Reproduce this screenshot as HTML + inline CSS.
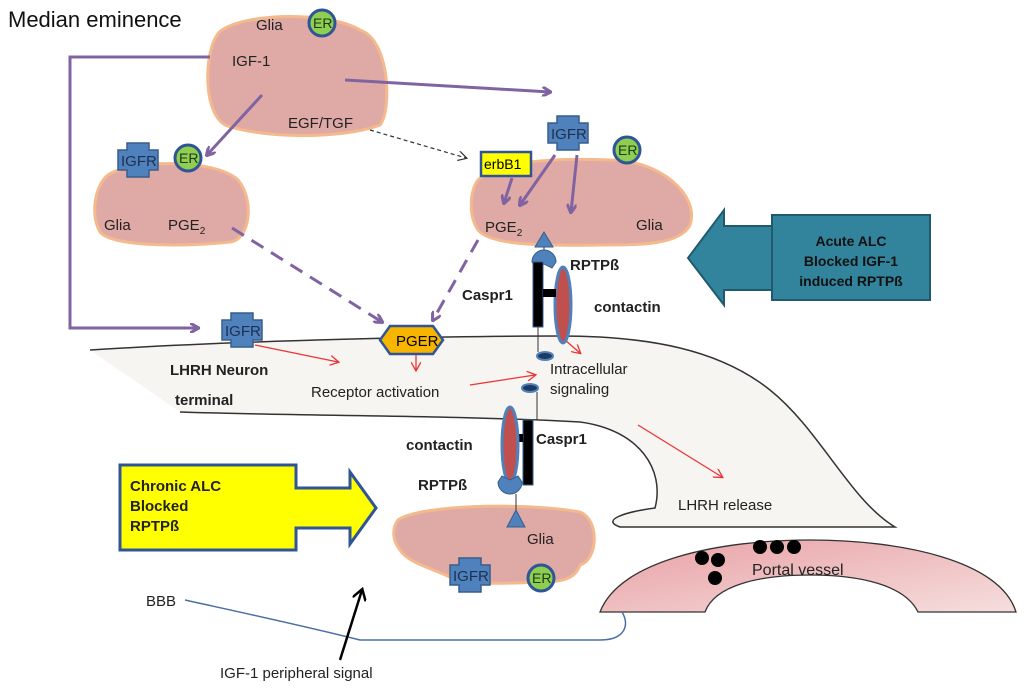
<!DOCTYPE html>
<html><head><meta charset="utf-8"><style>
body{margin:0;background:#fff}
svg{display:block;font-family:"Liberation Sans",Arial,sans-serif}
.b{font-weight:bold}
</style></head><body>
<svg width="1024" height="690" viewBox="0 0 1024 690" xmlns="http://www.w3.org/2000/svg">
<defs>
<marker id="pa" markerWidth="10" markerHeight="10" refX="8" refY="5" orient="auto" markerUnits="userSpaceOnUse"><path d="M0,0 L9,5 L0,10" fill="none" stroke="#8064a2" stroke-width="3"/></marker>
<marker id="ra" markerWidth="10" markerHeight="10" refX="8" refY="5" orient="auto" markerUnits="userSpaceOnUse"><path d="M0,0 L9,5 L0,10" fill="none" stroke="#e33" stroke-width="1.3"/></marker>
<marker id="ka" markerWidth="10" markerHeight="10" refX="8" refY="5" orient="auto" markerUnits="userSpaceOnUse"><path d="M0,0 L9,5 L0,10" fill="none" stroke="#333" stroke-width="1.2"/></marker>
<marker id="ba" markerWidth="14" markerHeight="14" refX="10" refY="7" orient="auto" markerUnits="userSpaceOnUse"><path d="M0,0 L11,7 L0,14" fill="none" stroke="#000" stroke-width="2.5"/></marker>
<linearGradient id="pv" x1="0" y1="0" x2="1" y2="1"><stop offset="0" stop-color="#e8a0a4"/><stop offset="1" stop-color="#f6dede"/></linearGradient>
</defs>

<!-- neuron terminal -->
<path d="M90,350 C250,340 450,336 560,336 C650,336 720,350 770,390 C820,430 850,500 895,527 L620,527 C600,520 625,512 655,508 C665,470 640,430 580,422 C450,415 300,416 180,412" fill="#f7f5f2" stroke="#333" stroke-width="1.5"/>

<!-- portal vessel -->
<path d="M600,612 C620,560 720,540 810,540 C900,540 1000,560 1016,612 L918,612 C905,585 860,575 810,575 C760,575 715,585 705,612 Z" fill="url(#pv)" stroke="#333" stroke-width="1.3"/>
<g fill="#000"><circle cx="760" cy="547" r="7"/><circle cx="777" cy="547" r="7"/><circle cx="794" cy="547" r="7"/><circle cx="702" cy="558" r="7"/><circle cx="718" cy="560" r="7"/><circle cx="715" cy="578" r="7"/></g>
<text x="752" y="575" font-size="16" fill="#222">Portal vessel</text>

<!-- BBB -->
<path d="M185,600 C230,610 300,625 360,640 L600,640 C625,640 630,625 622,612" fill="none" stroke="#4a6fa5" stroke-width="1.5"/>
<text x="146" y="606" font-size="15" fill="#222">BBB</text>
<line x1="340" y1="660" x2="362" y2="590" stroke="#000" stroke-width="2.5" marker-end="url(#ba)"/>
<text x="220" y="678" font-size="15" fill="#222">IGF-1 peripheral signal</text>

<!-- glia blobs -->
<g fill="#dfa9a5" stroke="#f4b98c" stroke-width="3">
<path d="M222,30 C250,12 330,12 360,30 C390,40 392,110 380,125 C340,140 260,138 225,125 C200,110 205,40 222,30 Z"/>
<path d="M108,175 C130,160 215,158 238,180 C255,200 250,240 230,242 C170,248 110,245 100,232 C90,215 95,185 108,175 Z"/>
<path d="M478,180 C500,160 560,158 610,160 C660,160 700,195 690,225 C680,245 640,245 600,245 C540,246 490,245 478,230 C468,215 470,190 478,180 Z"/>
<path d="M398,520 C420,505 520,502 580,512 C600,520 598,560 580,565 C575,580 560,582 540,582 C500,584 470,584 455,580 C440,570 410,565 400,550 C392,540 392,528 398,520 Z"/>
</g>

<!-- purple arrows -->
<g stroke="#8064a2" stroke-width="3" fill="none">
<polyline points="210,57 70,57 70,328 198,328" marker-end="url(#pa)"/>
<line x1="345" y1="80" x2="550" y2="92" marker-end="url(#pa)"/>
<line x1="262" y1="95" x2="207" y2="155" marker-end="url(#pa)"/>
<line x1="555" y1="155" x2="520" y2="205" marker-end="url(#pa)"/>
<line x1="512" y1="178" x2="504" y2="203" marker-end="url(#pa)"/>
<line x1="577" y1="155" x2="571" y2="212" marker-end="url(#pa)"/>
<line x1="232" y1="228" x2="382" y2="322" stroke-dasharray="14,9" marker-end="url(#pa)"/>
<line x1="478" y1="240" x2="433" y2="320" stroke-dasharray="14,9" marker-end="url(#pa)"/>
</g>
<line x1="370" y1="130" x2="466" y2="158" stroke="#333" stroke-width="1.2" stroke-dasharray="4,3" marker-end="url(#ka)"/>

<!-- red arrows -->
<g stroke="#e33" stroke-width="1.3" fill="none">
<line x1="255" y1="345" x2="338" y2="362" marker-end="url(#ra)"/>
<line x1="416" y1="345" x2="416" y2="370" marker-end="url(#ra)"/>
<line x1="470" y1="385" x2="535" y2="375" marker-end="url(#ra)"/>
<line x1="565" y1="340" x2="580" y2="353" marker-end="url(#ra)"/>
<line x1="638" y1="425" x2="722" y2="477" marker-end="url(#ra)"/>
</g>

<!-- IGFR crosses -->
<g fill="#4f81bd" stroke="#385d8a" stroke-width="1.5" font-size="15">
<path d="M118,150 h9 v-7 h22 v7 h9 v20 h-9 v7 h-22 v-7 h-9 z"/>
<path d="M222,320 h9 v-7 h22 v7 h9 v20 h-9 v7 h-22 v-7 h-9 z"/>
<path d="M548,123 h9 v-7 h22 v7 h9 v20 h-9 v7 h-22 v-7 h-9 z"/>
<path d="M450,565 h9 v-7 h22 v7 h9 v20 h-9 v7 h-22 v-7 h-9 z"/>
</g>
<g font-size="15" fill="#1f2f4f"><text x="121" y="166">IGFR</text><text x="225" y="336">IGFR</text><text x="551" y="139">IGFR</text><text x="453" y="581">IGFR</text></g>

<!-- ER circles -->
<g fill="#8fce50" stroke="#2f5597" stroke-width="3">
<circle cx="322" cy="23" r="13"/><circle cx="188" cy="158" r="13"/><circle cx="627" cy="150" r="13"/><circle cx="541" cy="578" r="13"/>
</g>
<g font-size="14" fill="#1a3a1a"><text x="313" y="28">ER</text><text x="179" y="163">ER</text><text x="618" y="155">ER</text><text x="532" y="583">ER</text></g>

<!-- erbB1 -->
<rect x="481" y="152" width="50" height="24" fill="#ffff00" stroke="#2f5597" stroke-width="2.5"/>
<text x="484" y="169" font-size="14">erbB1</text>

<!-- PGER -->
<path d="M380,340 L390,326 L433,326 L443,340 L433,354 L390,354 Z" fill="#f7b500" stroke="#2f5597" stroke-width="2.5"/>
<text x="396" y="346" font-size="15">PGER</text>

<!-- top receptor complex -->
<path d="M544,232 L553,247 L535,247 Z" fill="#4f81bd" stroke="#385d8a"/>
<line x1="544" y1="247" x2="544" y2="260" stroke="#333"/>
<path d="M532,262 a12,12 0 0 1 24,0 l-4,6 l-8,-4 l-8,4 z" fill="#4f81bd" stroke="#385d8a"/>
<ellipse cx="563" cy="305" rx="8" ry="38" fill="#c0504d" stroke="#4f81bd" stroke-width="3"/>
<rect x="533" y="262" width="10" height="65" fill="#000" stroke="#385d8a"/>
<rect x="543" y="289" width="13" height="8" fill="#000"/>
<line x1="538" y1="327" x2="538" y2="352" stroke="#333"/>
<ellipse cx="545" cy="356" rx="8" ry="4" fill="#1f3a60" stroke="#4f81bd" stroke-width="2"/>

<!-- bottom receptor complex -->
<ellipse cx="530" cy="388" rx="8" ry="4" fill="#1f3a60" stroke="#4f81bd" stroke-width="2"/>
<line x1="537" y1="392" x2="537" y2="420" stroke="#333"/>
<rect x="523" y="420" width="10" height="65" fill="#000" stroke="#385d8a"/>
<rect x="510" y="434" width="13" height="8" fill="#000"/>
<ellipse cx="510" cy="445" rx="8" ry="38" fill="#c0504d" stroke="#4f81bd" stroke-width="3"/>
<path d="M498,482 a12,12 0 0 0 24,0 l-4,-6 l-8,4 l-8,-4 z" fill="#4f81bd" stroke="#385d8a"/>
<line x1="516" y1="494" x2="516" y2="510" stroke="#333"/>
<path d="M516,510 L525,527 L507,527 Z" fill="#4f81bd" stroke="#385d8a"/>

<!-- labels -->
<text x="8" y="27" font-size="22" fill="#111">Median eminence</text>
<g font-size="15" fill="#222">
<text x="256" y="30">Glia</text>
<text x="232" y="66">IGF-1</text>
<text x="288" y="128">EGF/TGF</text>
<text x="104" y="230">Glia</text>
<text x="168" y="230">PGE<tspan font-size="10" dy="4">2</tspan></text>
<text x="485" y="232">PGE<tspan font-size="10" dy="4">2</tspan></text>
<text x="636" y="230">Glia</text>
<text x="311" y="397">Receptor activation</text>
<text x="550" y="374">Intracellular</text>
<text x="550" y="394">signaling</text>
<text x="678" y="510">LHRH release</text>
<text x="527" y="544">Glia</text>
</g>
<g font-size="15" class="b" fill="#222">
<text x="570" y="270">RPTPß</text>
<text x="462" y="300">Caspr1</text>
<text x="594" y="312">contactin</text>
<text x="170" y="375">LHRH Neuron</text>
<text x="175" y="405">terminal</text>
<text x="406" y="450">contactin</text>
<text x="536" y="444">Caspr1</text>
<text x="418" y="490">RPTPß</text>
</g>

<!-- Chronic ALC yellow arrow -->
<path d="M120,465 L296,465 L296,488 L350,488 L350,472 L376,508 L350,544 L350,528 L296,528 L296,550 L120,550 Z" fill="#ffff00" stroke="#2f5597" stroke-width="3"/>
<g font-size="15" class="b" fill="#222"><text x="130" y="491">Chronic  ALC</text><text x="130" y="511">Blocked</text><text x="130" y="531">RPTPß</text></g>

<!-- Acute ALC teal arrow -->
<path d="M930,215 L930,300 L772,300 L772,290 L724,290 L724,305 L688,258 L724,210 L724,226 L772,226 L772,215 Z" fill="#31849b" stroke="#215a6e" stroke-width="2"/>
<rect x="772" y="215" width="158" height="85" fill="#31849b" stroke="#215a6e" stroke-width="2"/>
<g font-size="14" class="b" fill="#111" text-anchor="middle"><text x="851" y="246">Acute ALC</text><text x="851" y="266">Blocked IGF-1</text><text x="851" y="286">induced RPTPß</text></g>
</svg>
</body></html>
